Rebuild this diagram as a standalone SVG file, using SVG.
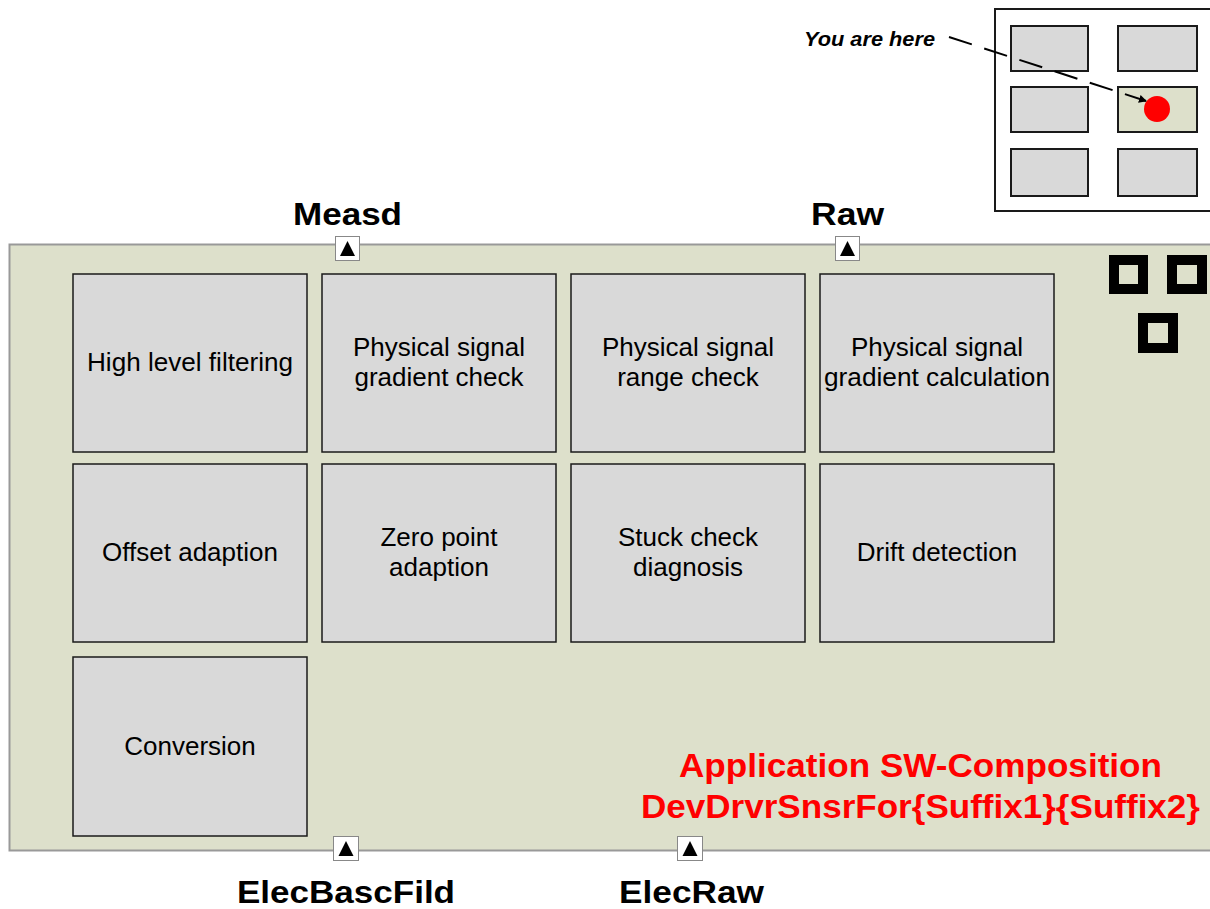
<svg xmlns="http://www.w3.org/2000/svg" width="1210" height="909" viewBox="0 0 1210 909">
<style>
.box{fill:#d9d9d9;stroke:#1a1a1a;stroke-width:1.5}
.bt{font-family:"Liberation Sans",Arial,sans-serif;font-size:26px;fill:#000;text-anchor:middle}
.port{fill:#fff;stroke:#888;stroke-width:1}
.pl{font-family:"Liberation Sans",Arial,sans-serif;font-size:32px;font-weight:bold;fill:#000;text-anchor:middle}
.red{font-family:"Liberation Sans",Arial,sans-serif;font-size:34px;font-weight:bold;fill:#ff0000;text-anchor:middle}
.mini{fill:#d9d9d9;stroke:#1a1a1a;stroke-width:2}
.sq{fill:none;stroke:#000;stroke-width:10}
</style>
<defs>
<marker id="ah" markerWidth="8" markerHeight="8" refX="7" refY="4" orient="auto" markerUnits="userSpaceOnUse"><path d="M0,0 L8,4 L0,8 Z" fill="#000"/></marker>
</defs>
<rect width="1210" height="909" fill="#fff"/>
<g id="composition">
<rect x="9.5" y="244.5" width="1210" height="606" fill="#dde0cb" stroke="#999" stroke-width="2"/>
<text class="red" x="920.5" y="777" textLength="483" lengthAdjust="spacingAndGlyphs">Application SW-Composition</text>
<text class="red" x="920.5" y="818" textLength="559" lengthAdjust="spacingAndGlyphs">DevDrvrSnsrFor{Suffix1}{Suffix2}</text>
<rect class="sq" x="1114" y="260" width="29" height="29"/>
<rect class="sq" x="1172" y="260" width="30" height="29"/>
<rect class="sq" x="1143" y="318" width="30" height="30"/>
</g>
<g id="n1"><rect class="box" x="73" y="274" width="234" height="178"/><text class="bt" x="190" y="371" textLength="206" lengthAdjust="spacingAndGlyphs">High level filtering</text></g>
<g id="n2"><rect class="box" x="322" y="274" width="234" height="178"/><text class="bt" x="439" y="356">Physical signal</text><text class="bt" x="439" y="386">gradient check</text></g>
<g id="n3"><rect class="box" x="571" y="274" width="234" height="178"/><text class="bt" x="688" y="356">Physical signal</text><text class="bt" x="688" y="386">range check</text></g>
<g id="n4"><rect class="box" x="820" y="274" width="234" height="178"/><text class="bt" x="937" y="356">Physical signal</text><text class="bt" x="937" y="386" textLength="226" lengthAdjust="spacingAndGlyphs">gradient calculation</text></g>
<g id="n5"><rect class="box" x="73" y="464" width="234" height="178"/><text class="bt" x="190" y="561">Offset adaption</text></g>
<g id="n6"><rect class="box" x="322" y="464" width="234" height="178"/><text class="bt" x="439" y="546">Zero point</text><text class="bt" x="439" y="576">adaption</text></g>
<g id="n7"><rect class="box" x="571" y="464" width="234" height="178"/><text class="bt" x="688" y="546">Stuck check</text><text class="bt" x="688" y="576">diagnosis</text></g>
<g id="n8"><rect class="box" x="820" y="464" width="234" height="178"/><text class="bt" x="937" y="561">Drift detection</text></g>
<g id="n9"><rect class="box" x="73" y="657" width="234" height="179"/><text class="bt" x="190" y="755">Conversion</text></g>
<g id="p-measd"><rect class="port" x="335.5" y="236.5" width="24" height="24"/><path d="M340,256 L355,256 L347.5,241 Z" fill="#000"/><text class="pl" x="347.5" y="225" textLength="109" lengthAdjust="spacingAndGlyphs">Measd</text></g>
<g id="p-raw"><rect class="port" x="835.5" y="236.5" width="24" height="24"/><path d="M840,256 L855,256 L847.5,241 Z" fill="#000"/><text class="pl" x="847.5" y="225" textLength="73" lengthAdjust="spacingAndGlyphs">Raw</text></g>
<g id="p-elecbasc"><rect class="port" x="333.5" y="836.5" width="25" height="24"/><path d="M338.5,856 L353.5,856 L346,841 Z" fill="#000"/><text class="pl" x="346" y="903" textLength="218" lengthAdjust="spacingAndGlyphs">ElecBascFild</text></g>
<g id="p-elecraw"><rect class="port" x="677.5" y="836.5" width="25" height="24"/><path d="M682.5,856 L697.5,856 L690,841 Z" fill="#000"/><text class="pl" x="691.5" y="903" textLength="145" lengthAdjust="spacingAndGlyphs">ElecRaw</text></g>
<g id="minimap">
<rect x="995" y="9" width="220" height="202" fill="#fff" stroke="#1a1a1a" stroke-width="2"/>
<rect class="mini" x="1011" y="26" width="77" height="45"/>
<rect class="mini" x="1118" y="26" width="79" height="45"/>
<rect class="mini" x="1011" y="87" width="77" height="45"/>
<rect class="mini" x="1118" y="87" width="79" height="45" style="fill:#dde0cb"/>
<rect class="mini" x="1011" y="149" width="77" height="47"/>
<rect class="mini" x="1118" y="149" width="79" height="47"/>
<circle cx="1157" cy="109" r="13" fill="#ff0000"/>
<text x="804" y="46" textLength="131" lengthAdjust="spacingAndGlyphs" font-family="Liberation Sans,Arial,sans-serif" font-size="21" font-weight="bold" font-style="italic" fill="#000">You are here</text>
</g>
<g id="connectors">
<line x1="949" y1="37" x2="1146" y2="101" stroke="#000" stroke-width="2" stroke-dasharray="24,13" marker-end="url(#ah)"/>
</g>
</svg>
